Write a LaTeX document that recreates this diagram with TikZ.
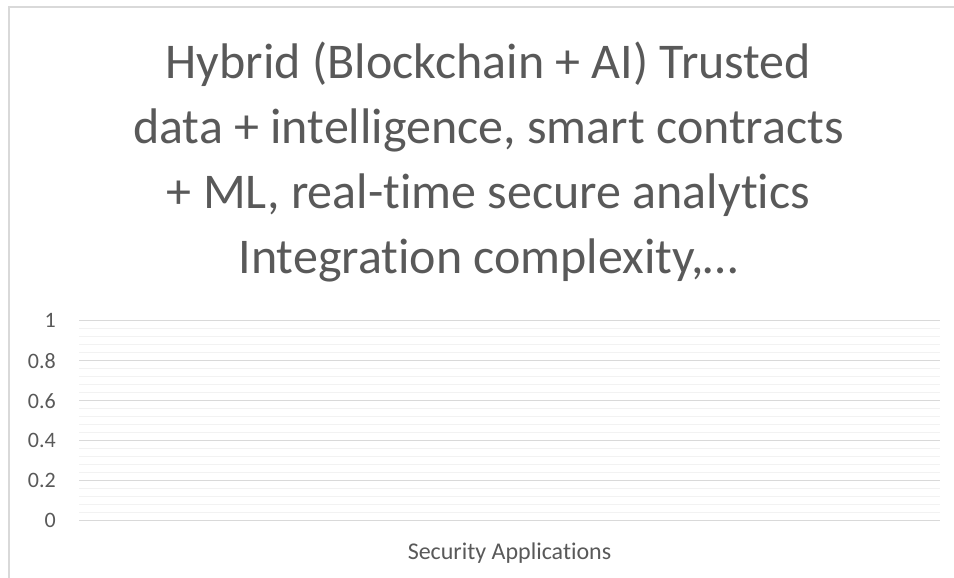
\documentclass[tikz,border=0pt]{standalone}
\usepackage{fontspec}
\setmainfont[Ligatures=NoCommon]{Carlito}
\definecolor{txt}{HTML}{595959}
\definecolor{major}{HTML}{D9D9D9}
\definecolor{minor}{HTML}{F2F2F2}
\begin{document}
\begin{tikzpicture}[x=1pt,y=-1pt,
  majorline/.style={draw=major,line width=1.3pt},
  minorline/.style={draw=minor,line width=1.3pt},
  ylab/.style={anchor=east,text=txt,font=\fontsize{22}{24}\selectfont,inner sep=0pt},
  titleline/.style={text=txt,font=\fontsize{50}{65}\selectfont,anchor=base,inner sep=0pt},
  frameline/.style={draw=major,line width=1.3pt}]
\useasboundingbox (0,0) rectangle (954,578);
\fill[white] (0,0) rectangle (954,578);
\draw[frameline] (9,600) -- (9,7) -- (980,7);
% minor grid
\foreach \k in {0,...,4}{
  \foreach \j in {1,...,4}{
    \draw[minorline] (79,{320.7+40*\k+8*\j}) -- (940,{320.7+40*\k+8*\j});
  }
}
% major grid and labels
\foreach \k/\lab in {0/1,1/0.8,2/0.6,3/0.4,4/0.2,5/0}{
  \draw[majorline] (79,{320.7+40*\k}) -- (940,{320.7+40*\k});
  \node[ylab] (l\k) at (56,{320.7+40*\k}) {\lab};
}
\node[titleline] (t1) at (488.5,78.3) {Hybrid (Blockchain + AI) Trusted};
\node[titleline] (t2) at (488.5,143.3) {data + intelligence, smart contracts};
\node[titleline] (t3) at (488.5,208.3) {+ ML, real-time secure analytics};
\node[titleline] (t4) at (488.5,273.3) {Integration complexity,\ldots};
\node[text=txt,font=\fontsize{24}{26}\selectfont,anchor=base,inner sep=0pt] (xtitle) at (509.5,559) {Security Applications};
\end{tikzpicture}
\end{document}
